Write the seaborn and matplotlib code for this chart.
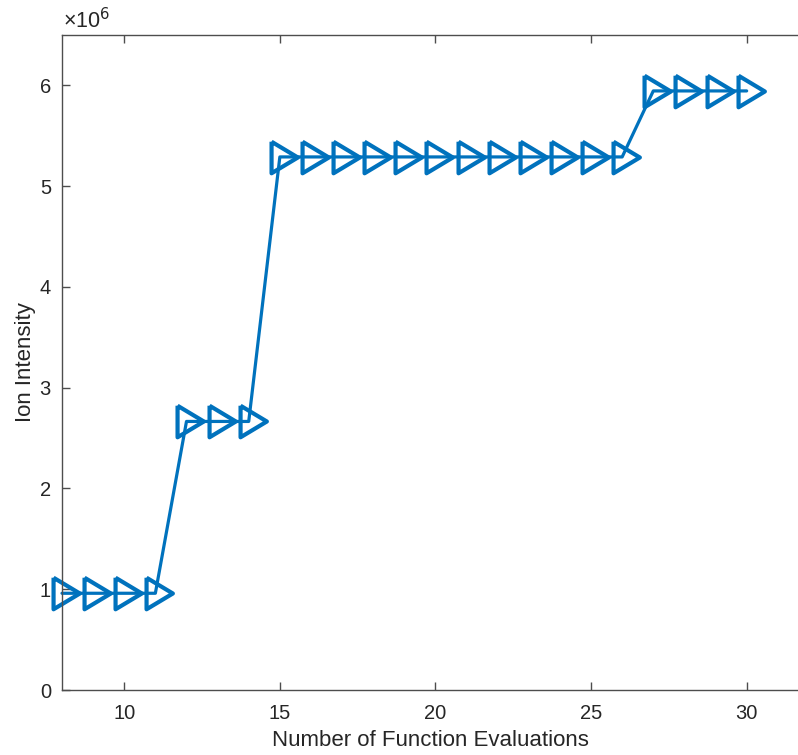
import numpy as np
import pandas as pd
import matplotlib
matplotlib.use("Agg")
import matplotlib.pyplot as plt
import seaborn as sns
from matplotlib.ticker import FuncFormatter

evaluations = list(range(8, 31))
intensity = [0.96e6] * 4 + [2.665e6] * 3 + [5.29e6] * 12 + [5.945e6] * 4
x_ticks = [10, 15, 20, 25, 30]
y_ticks = [0, 1e6, 2e6, 3e6, 4e6, 5e6, 6e6]

df = pd.DataFrame({"Number of Function Evaluations": evaluations, "Ion Intensity": intensity})

sns.set_style("white")
plt.rcParams["font.family"] = ["Liberation Sans", "DejaVu Sans"]

fig = plt.figure(figsize=(7.98, 7.55), dpi=100)
ax = fig.add_axes([62 / 798, 1 - 690 / 755, 1 - 62 / 798, (690 - 35) / 755])

# MATLAB-like '>' marker centred on the centroid
tri = np.array([[-8.5, 15.0], [16.5, 0.0], [-8.5, -15.0], [-8.5, 15.0]])
blue = "#0072BD"
sns.lineplot(data=df, x="Number of Function Evaluations", y="Ion Intensity", ax=ax,
             color=blue, linewidth=2.3, marker=tri, markersize=25,
             markeredgewidth=3.0, markeredgecolor=blue, fillstyle="none",
             markerfacecolor="none", clip_on=False)

ax.set_xlim(8, 31.65)
ax.set_ylim(0, 6.5e6)
ax.set_xticks(x_ticks)
ax.set_yticks(y_ticks)
ax.yaxis.set_major_formatter(FuncFormatter(lambda v, p: f"{v/1e6:g}"))

txt = "#262626"
for s in ["left", "bottom", "top"]:
    ax.spines[s].set_color("#4d4d4d")
    ax.spines[s].set_linewidth(1.0)
ax.spines["right"].set_visible(False)
ax.tick_params(axis="both", direction="in", length=6, width=1.0, color="#4d4d4d",
               labelsize=14.5, labelcolor=txt, top=True, right=False, bottom=True, left=True)
ax.tick_params(axis="x", pad=10)
ax.tick_params(axis="y", pad=8)
ax.set_xlabel("Number of Function Evaluations", fontsize=16, color=txt, labelpad=5)
ax.set_ylabel("Ion Intensity", fontsize=16, color=txt, labelpad=2.5)
ax.text(0.001, 1.002, "×10$^{6}$", transform=ax.transAxes, fontsize=15.5, color=txt,
        ha="left", va="bottom")
ax.grid(False)

fig.savefig("out.png", dpi=100)
